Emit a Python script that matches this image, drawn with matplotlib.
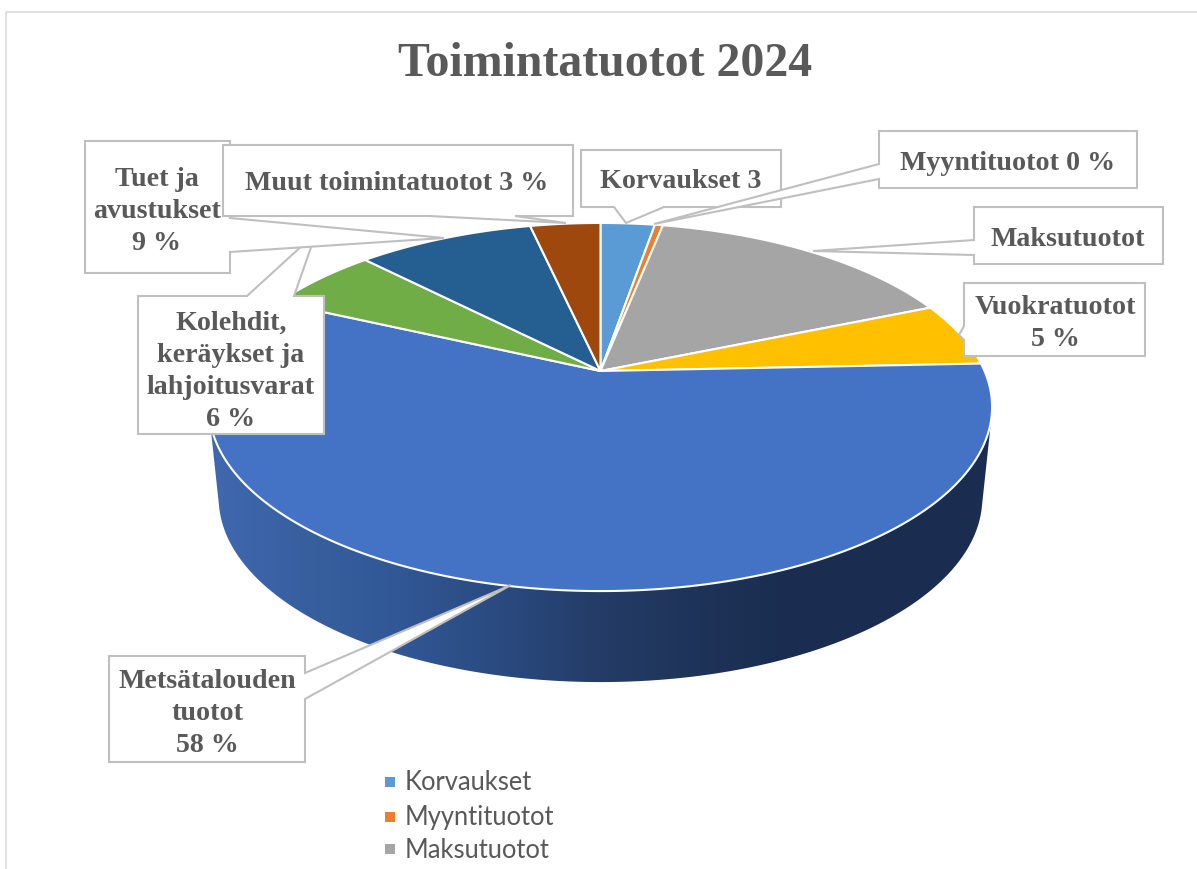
import numpy as np
import matplotlib
matplotlib.use("Agg")
import matplotlib.pyplot as plt
from matplotlib.patches import Polygon
from matplotlib.colors import LinearSegmentedColormap

# ---- data ----
categories = ["Korvaukset", "Myyntituotot", "Maksutuotot", "Vuokratuotot",
              "Metsätalouden tuotot", "Kolehdit, keräykset ja lahjoitusvarat",
              "Tuet ja avustukset", "Muut toimintatuotot"]
values = [2.7, 0.4, 15.6, 5.6, 57.5, 5.8, 8.8, 3.5]
colors = ["#5b9bd5", "#ed7d31", "#a5a5a5", "#ffc000",
          "#4472c4", "#70ad47", "#255e91", "#9e480e"]
legend_shown = ["Korvaukset", "Myyntituotot", "Maksutuotot"]
title = "Toimintatuotot 2024"

W, H = 1197, 869
fig = plt.figure(figsize=(W / 100, H / 100), dpi=100, facecolor="white")
ax = fig.add_axes([0, 0, 1, 1])
ax.axis("off")

GREY = "#595959"
LINE = "#bfbfbf"
SERIF = "Liberation Serif"

# ---- perspective projection of a unit disc ----
CX, CY, A, B, K = 600.5, 371.0, 384.0, 177.0, 0.1957


def top(frac):
    t = 2 * np.pi * np.asarray(frac)
    u, v = np.sin(t), np.cos(t)
    w = 1 + K * v
    return CX + A * u / w, CY - B * v / w


def bottom(frac):
    x, y = top(frac)
    return CX + 0.975 * (x - CX), y + 91


def convex_hull(points):
    pts = sorted(set(map(tuple, points)))

    def half(seq):
        out = []
        for p in seq:
            while len(out) > 1 and ((out[-1][0] - out[-2][0]) * (p[1] - out[-2][1])
                                    - (out[-1][1] - out[-2][1]) * (p[0] - out[-2][0])) <= 0:
                out.pop()
            out.append(p)
        return out[:-1]

    return half(pts) + half(pts[::-1])


fr = np.array(values) / sum(values)
edges = np.concatenate([[0], np.cumsum(fr)])

# gradient side wall (only the big slice faces the viewer)
idx = categories.index("Metsätalouden tuotot")
ts = np.linspace(edges[idx], edges[idx + 1], 500)
hull = convex_hull(np.r_[np.column_stack(top(ts)), np.column_stack(bottom(ts))])
stops = [(210, "#3f68b0"), (300, "#38609f"), (400, "#315795"), (500, "#2a4a80"),
         (600, "#243c66"), (700, "#1e3358"), (790, "#1a2d50"), (1000, "#1a2d50")]
cmap = LinearSegmentedColormap.from_list(
    "side", [((x - 210) / 790, c) for x, c in stops])
img = ax.imshow(np.linspace(0, 1, 400)[None, :], cmap=cmap, extent=(210, 1000, 700, 300),
                aspect="auto", zorder=2, interpolation="bilinear")
img.set_clip_path(Polygon(hull, closed=True, transform=ax.transData))

ax.set_xlim(0, W)
ax.set_ylim(H, 0)

# chart-area frame (left and top only are visible)
ax.plot([5.5, 5.5, W], [H, 12, 12], color="#d9d9d9", lw=1.1, zorder=1, solid_capstyle="butt")

# top faces
for i, c in enumerate(colors):
    f = np.linspace(edges[i], edges[i + 1], max(3, int(fr[i] * 800)))
    x, y = top(f)
    pts = np.column_stack([np.r_[CX, x], np.r_[CY, y]])
    ax.add_patch(Polygon(pts, closed=True, facecolor=c, edgecolor="white", lw=1.5,
                         joinstyle="round", zorder=3))

# ---- callouts ----
TXT = dict(family=SERIF, weight="bold", color=GREY, ha="center", va="center", fontsize=20.2)


def callout(x0, y0, x1, y1, pointer, side, lines, cx, ys, z):
    if side == "top":
        p = [(x0, y0), pointer[0], pointer[1], pointer[2], (x1, y0), (x1, y1), (x0, y1)]
    elif side == "bottom":
        p = [(x0, y0), (x1, y0), (x1, y1), pointer[2], pointer[1], pointer[0], (x0, y1)]
    elif side == "right":
        p = [(x0, y0), (x1, y0), pointer[0], pointer[1], pointer[2], (x1, y1), (x0, y1)]
    else:
        p = [(x0, y0), (x1, y0), (x1, y1), (x0, y1), pointer[2], pointer[1], pointer[0]]
    ax.add_patch(Polygon(p, closed=True, facecolor="white", edgecolor=LINE, lw=1.5,
                         joinstyle="miter", zorder=z))
    for s, yy in zip(lines, ys):
        ax.text(cx, yy + 3, s, zorder=z + 0.1, **TXT)


callout(138, 296, 324, 434, [(247, 296), (316, 233), (294, 296)], "top",
        ["Kolehdit,", "keräykset ja", "lahjoitusvarat", "6 %"], 231, [320, 352, 384, 416], 5)
callout(85, 141, 230, 273, [(230, 218), (444, 238), (230, 252)], "right",
        ["Tuet ja", "avustukset", "9 %"], 157, [177, 208, 240], 6)
callout(223, 145, 573, 216, [(429, 216), (566, 223), (515, 216)], "bottom",
        ["Muut toimintatuotot 3 %"], 397, [181], 7)
callout(581, 150, 781, 207, [(614, 207), (626, 223), (664, 207)], "bottom",
        ["Korvaukset 3"], 681, [179], 8)
callout(879, 131, 1137, 188, [(879, 164), (654, 224), (879, 179)], "left",
        ["Myyntituotot 0 %"], 1008, [161], 9)
callout(974, 207, 1163, 264, [(974, 240), (813, 251), (974, 255)], "left",
        ["Maksutuotot"], 1068, [236], 10)
callout(964, 283, 1145, 356, [(964, 326), (959, 335), (964, 340)], "left",
        ["Vuokratuotot", "5 %"], 1055, [305, 337], 11)
callout(109, 656, 305, 762, [(305, 673), (511, 585), (305, 699)], "right",
        ["Metsätalouden", "tuotot", "58 %"], 207, [679, 711, 742], 12)

# title
ax.text(605, 64, title, family=SERIF, weight="bold", color=GREY, fontsize=34.5,
        ha="center", va="center", zorder=20)

# legend (cropped by the picture's bottom edge after three entries)
for name, yy in zip(legend_shown, [782, 817, 849]):
    ax.scatter([390], [yy], marker="s", s=46, color=colors[categories.index(name)],
               linewidths=0, zorder=20)
    ax.text(405, yy + 1, name, family="Lato", color=GREY, fontsize=18.4, ha="left",
            va="center", zorder=20)

fig.savefig("out.png", dpi=100, facecolor="white")
